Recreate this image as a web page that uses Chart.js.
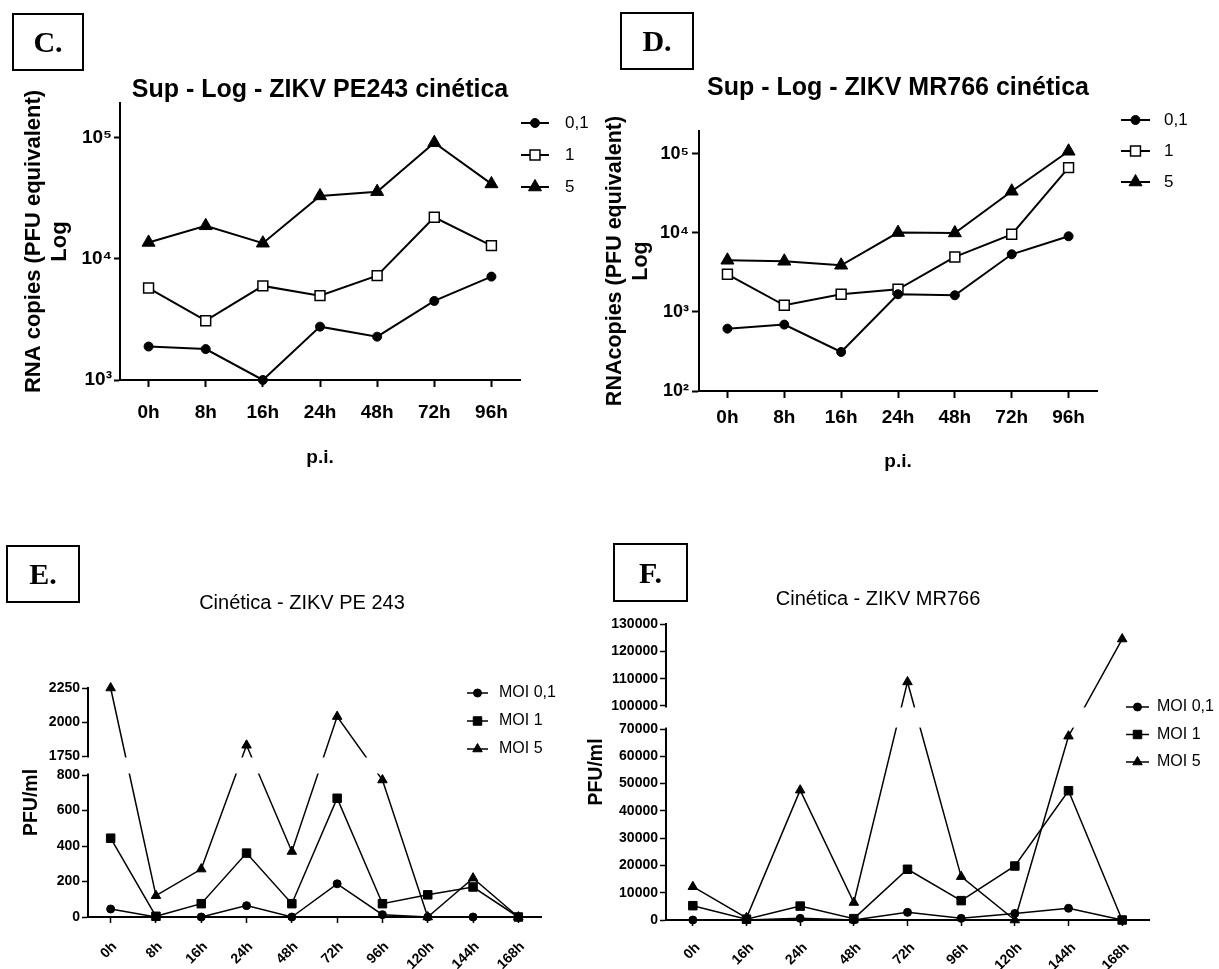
<!DOCTYPE html>
<html lang="pt">
<head>
<meta charset="utf-8">
<title>Cinética ZIKV PE243 / MR766</title>
<script src="https://cdn.jsdelivr.net/npm/chart.js@4.4.1/dist/chart.umd.min.js"></script>
<style>
  body { margin: 0; background: #fff; }
  #page { position: relative; width: 1219px; height: 969px; overflow: hidden; background: #fff; }
  canvas { position: absolute; }
  .tag {
    position: absolute; box-sizing: border-box; border: 2px solid #000;
    display: flex; align-items: center; justify-content: center;
    font: bold 30px "Liberation Serif", "Times New Roman", serif; color: #000;
  }
</style>
</head>
<body>
<div id="page">
  <canvas id="chartC" width="600" height="480" style="left:0;top:0"></canvas>
  <canvas id="chartD" width="619" height="480" style="left:600px;top:0"></canvas>
  <canvas id="chartE" width="610" height="409" style="left:0;top:560px"></canvas>
  <canvas id="chartF" width="639" height="409" style="left:580px;top:560px"></canvas>
  <div class="tag" style="left:12px;top:13px;width:72px;height:58px">C.</div>
  <div class="tag" style="left:620px;top:12px;width:74px;height:58px">D.</div>
  <div class="tag" style="left:6px;top:545px;width:74px;height:58px">E.</div>
  <div class="tag" style="left:613px;top:543px;width:75px;height:59px">F.</div>
</div>
<script>
// data
const hoursRna = ["0h", "8h", "16h", "24h", "48h", "72h", "96h"];
const moiRna = ["0,1", "1", "5"];

const rnaPE243_01 = [1890, 1800, 1000, 2760, 2280, 4500, 7150];
const rnaPE243_1 = [5750, 3090, 5990, 4980, 7280, 22100, 12900];
const rnaPE243_5 = [13700, 18800, 13500, 33200, 36000, 91400, 41700];

const rnaMR766_01 = [615, 692, 312, 1675, 1627, 5370, 9070];
const rnaMR766_1 = [3000, 1215, 1675, 1937, 4970, 9610, 67100];
const rnaMR766_5 = [4510, 4380, 3900, 10100, 10000, 33700, 108000];

const hoursPE243 = ["0h", "8h", "16h", "24h", "48h", "72h", "96h", "120h", "144h", "168h"];
const hoursMR766 = ["0h", "16h", "24h", "48h", "72h", "96h", "120h", "144h", "168h"];
const moiPfu = ["MOI 0,1", "MOI 1", "MOI 5"];

const pfuPE243_01 = [45, 0, 0, 64, 0, 187, 13, 0, 0, 0];
const pfuPE243_1 = [444, 4, 75, 360, 75, 669, 75, 125, 169, 0];
const pfuPE243_5 = [2250, 120, 270, 1829, 369, 2040, 772, 0, 219, 0];

const pfuMR766_01 = [0, 0, 600, 0, 2800, 600, 2400, 4300, 0];
const pfuMR766_1 = [5250, 300, 5100, 500, 18600, 7100, 19800, 47400, 0];
const pfuMR766_5 = [12200, 800, 47600, 6400, 108800, 15900, 0, 67400, 124500];

const logTicksPE243 = [1000, 10000, 100000];
const logTicksMR766 = [100, 1000, 10000, 100000];
const pfuTicksPE243 = [0, 200, 400, 600, 800, 1750, 2000, 2250];
const pfuTicksMR766 = [0, 10000, 20000, 30000, 40000, 50000, 60000, 70000, 100000, 110000, 120000, 130000];

// look
const SANS = '"Liberation Sans", Arial, Helvetica, sans-serif';
const black = "#000";
const SUP = { 2: "\u00B2", 3: "\u00B3", 4: "\u2074", 5: "\u2075" };
const powerLabel = (v) => "10" + SUP[Math.round(Math.log10(v))];

Chart.defaults.font.family = SANS;
Chart.defaults.color = black;

const markRna = [
  { pointStyle: "circle", pointRadius: 4.5, pointBackgroundColor: black, pointBorderWidth: 1 },
  { pointStyle: "rect", pointRadius: 7, pointBackgroundColor: "#fff", pointBorderWidth: 1.5 },
  { pointStyle: "triangle", pointRadius: 7.5, pointBackgroundColor: black, pointBorderWidth: 1 },
];
const markPfu = [
  { pointStyle: "circle", pointRadius: 4, pointBackgroundColor: black, pointBorderWidth: 1 },
  { pointStyle: "rect", pointRadius: 6, pointBackgroundColor: black, pointBorderWidth: 1 },
  { pointStyle: "triangle", pointRadius: 5.5, pointBackgroundColor: black, pointBorderWidth: 1 },
];

function makeDatasets(labels, values, marks, width) {
  return values.map((data, i) => Object.assign({
    label: labels[i],
    data: data,
    borderColor: black,
    borderWidth: width,
    pointBorderColor: black,
    pointHoverRadius: 0,
    tension: 0,
    fill: false,
    clip: false,
  }, marks[i]));
}

// linear axis with a hidden band between breakLow and breakHigh (GraphPad style)
class BrokenLinearScale extends Chart.LinearScale {
  static id = "brokenLinear";
  getPixelForValue(value) {
    if (value === null || value === undefined || isNaN(value)) return NaN;
    const o = this.options;
    const low = o.lowerShare, gap = o.gapShare;
    let d;
    if (value <= o.breakLow) {
      d = (value - this.min) / (o.breakLow - this.min) * low;
    } else if (value >= o.breakHigh) {
      d = low + gap + (value - o.breakHigh) / (this.max - o.breakHigh) * (1 - low - gap);
    } else {
      d = low + (value - o.breakLow) / (o.breakHigh - o.breakLow) * gap;
    }
    return this.getPixelForDecimal(d);
  }
  getValueForPixel(pixel) {
    const o = this.options;
    const low = o.lowerShare, gap = o.gapShare;
    const d = this.getDecimalForPixel(pixel);
    if (d <= low) return this.min + d / low * (o.breakLow - this.min);
    if (d >= low + gap) return o.breakHigh + (d - low - gap) / (1 - low - gap) * (this.max - o.breakHigh);
    return o.breakLow + (d - low) / gap * (o.breakHigh - o.breakLow);
  }
}
Chart.register(BrokenLinearScale);

const axisBreakGap = {
  id: "axisBreakGap",
  afterDatasetsDraw(chart) {
    const y = chart.scales.y;
    if (!y || y.type !== "brokenLinear") return;
    const top = y.getPixelForValue(y.options.breakHigh) + 1.5;
    const bottom = y.getPixelForValue(y.options.breakLow) - 1.5;
    const ctx = chart.ctx;
    ctx.save();
    ctx.fillStyle = "#fff";
    ctx.fillRect(y.right - 3, top, chart.chartArea.right - y.right + 8, bottom - top);
    ctx.restore();
  },
};

function drawMark(ctx, style, x, y, r, fill) {
  ctx.beginPath();
  if (style === "circle") {
    ctx.arc(x, y, r, 0, Math.PI * 2);
  } else if (style === "rect") {
    const s = r * Math.SQRT1_2;
    ctx.rect(x - s, y - s, 2 * s, 2 * s);
  } else {
    ctx.moveTo(x, y - r);
    ctx.lineTo(x + r * 0.866, y + r / 2);
    ctx.lineTo(x - r * 0.866, y + r / 2);
    ctx.closePath();
  }
  ctx.fillStyle = fill;
  ctx.fill();
  ctx.stroke();
}

// legend: short line with the series marker in the middle, then the label
const seriesLegend = {
  id: "seriesLegend",
  afterDraw(chart, args, opts) {
    const ctx = chart.ctx;
    ctx.save();
    ctx.strokeStyle = black;
    ctx.font = opts.textFont;
    ctx.textBaseline = "middle";
    chart.data.datasets.forEach((ds, i) => {
      const y = opts.y + i * opts.step;
      ctx.lineWidth = opts.lineWidth;
      ctx.beginPath();
      ctx.moveTo(opts.x, y);
      ctx.lineTo(opts.x + opts.length, y);
      ctx.stroke();
      ctx.lineWidth = ds.pointBorderWidth;
      drawMark(ctx, ds.pointStyle, opts.x + opts.length / 2, y, ds.pointRadius, ds.pointBackgroundColor);
      ctx.fillStyle = black;
      ctx.fillText(ds.label, opts.textX, y);
    });
    ctx.restore();
  },
};

const tickFontRna = { size: 19, weight: "bold" };
const tickFontPfu = { size: 14, weight: "bold" };

// C. Sup - Log - ZIKV PE243
new Chart(document.getElementById("chartC"), {
  type: "line",
  data: {
    labels: hoursRna,
    datasets: makeDatasets(moiRna, [rnaPE243_01, rnaPE243_1, rnaPE243_5], markRna, 2),
  },
  options: {
    responsive: false,
    animation: false,
    events: [],
    layout: { padding: { left: 0, right: 80, top: 0, bottom: 0 } },
    scales: {
      x: {
        type: "category",
        offset: true,
        grid: { offset: false, drawOnChartArea: false, tickLength: 7, tickWidth: 2, tickColor: black },
        border: { color: black, width: 2 },
        ticks: { color: black, font: tickFontRna, padding: 14.6, maxRotation: 0, autoSkip: false },
        title: {
          display: true, text: "p.i.", color: black,
          font: { size: 19, weight: "bold", lineHeight: 1.2 },
          padding: { top: 0, bottom: 10.6 },
        },
        afterFit: (s) => { s.height = 100; },
      },
      y: {
        type: "logarithmic",
        min: 1000,
        max: 194500,
        afterBuildTicks: (s) => { s.ticks = logTicksPE243.map((v) => ({ value: v })); },
        grid: { drawOnChartArea: false, tickLength: 6, tickWidth: 2, tickColor: black },
        border: { color: black, width: 2 },
        ticks: { color: black, font: tickFontRna, padding: 2, callback: powerLabel },
        title: {
          display: true, text: ["RNA copies (PFU equivalent)", "Log"], color: black,
          font: { size: 22, weight: "bold", lineHeight: 1.2 },
          padding: { top: 20.8, bottom: 0 },
        },
        afterFit: (s) => { s.width = 120; },
      },
    },
    plugins: {
      legend: { display: false },
      tooltip: { enabled: false },
      title: {
        display: true, fullSize: false,
        text: "Sup - Log - ZIKV PE243 cinética", color: black,
        font: { size: 25, weight: "bold", lineHeight: 1 },
        padding: { top: 77.5, bottom: 0.5 },
      },
      seriesLegend: { x: 521, length: 28, textX: 565, y: 123, step: 32, lineWidth: 2, textFont: "17px " + SANS },
    },
  },
  plugins: [seriesLegend],
});

// D. Sup - Log - ZIKV MR766
new Chart(document.getElementById("chartD"), {
  type: "line",
  data: {
    labels: hoursRna,
    datasets: makeDatasets(moiRna, [rnaMR766_01, rnaMR766_1, rnaMR766_5], markRna, 2),
  },
  options: {
    responsive: false,
    animation: false,
    events: [],
    layout: { padding: { left: 0, right: 122, top: 0, bottom: 0 } },
    scales: {
      x: {
        type: "category",
        offset: true,
        grid: { offset: false, drawOnChartArea: false, tickLength: 7, tickWidth: 2, tickColor: black },
        border: { color: black, width: 2 },
        ticks: { color: black, font: tickFontRna, padding: 8.6, maxRotation: 0, autoSkip: false },
        title: {
          display: true, text: "p.i.", color: black,
          font: { size: 19, weight: "bold", lineHeight: 1.2 },
          padding: { top: 0, bottom: 6.6 },
        },
        afterFit: (s) => { s.height = 89; },
      },
      y: {
        type: "logarithmic",
        min: 100,
        max: 195000,
        afterBuildTicks: (s) => { s.ticks = logTicksMR766.map((v) => ({ value: v })); },
        grid: { drawOnChartArea: false, tickLength: 7, tickWidth: 2, tickColor: black },
        border: { color: black, width: 2 },
        ticks: { color: black, font: { size: 18, weight: "bold" }, padding: 3, callback: powerLabel },
        title: {
          display: true, text: ["RNAcopies (PFU equivalent)", "Log"], color: black,
          font: { size: 21.5, weight: "bold", lineHeight: 1.2 },
          padding: { top: 2, bottom: 0 },
        },
        afterFit: (s) => { s.width = 99; },
      },
    },
    plugins: {
      legend: { display: false },
      tooltip: { enabled: false },
      title: {
        display: true, fullSize: false,
        text: "Sup - Log - ZIKV MR766 cinética", color: black,
        font: { size: 25, weight: "bold", lineHeight: 1 },
        padding: { top: 75.5, bottom: 30.5 },
      },
      seriesLegend: { x: 521, length: 29, textX: 564, y: 120, step: 31, lineWidth: 2, textFont: "17px " + SANS },
    },
  },
  plugins: [seriesLegend],
});

// E. Cinética - ZIKV PE 243 (PFU/ml, broken axis)
new Chart(document.getElementById("chartE"), {
  type: "line",
  data: {
    labels: hoursPE243,
    datasets: makeDatasets(moiPfu, [pfuPE243_01, pfuPE243_1, pfuPE243_5], markPfu, 1.5),
  },
  options: {
    responsive: false,
    animation: false,
    events: [],
    layout: { padding: { left: 0, right: 6, top: 0, bottom: 0 } },
    scales: {
      x: {
        type: "category",
        offset: true,
        grid: { offset: false, drawOnChartArea: false, tickLength: 6, tickWidth: 1.5, tickColor: black },
        border: { color: black, width: 2 },
        ticks: { color: black, font: tickFontPfu, padding: 15.6, labelOffset: 4, minRotation: 45, maxRotation: 45, autoSkip: false },
        afterFit: (s) => { s.height = 52; },
      },
      y: {
        type: "brokenLinear",
        min: 0,
        max: 2250,
        breakLow: 800,
        breakHigh: 1750,
        lowerShare: 0.62,
        gapShare: 0.083,
        afterBuildTicks: (s) => { s.ticks = pfuTicksPE243.map((v) => ({ value: v })); },
        grid: { drawOnChartArea: false, tickLength: 6, tickWidth: 1.5, tickColor: black },
        border: { color: black, width: 2 },
        ticks: { color: black, font: tickFontPfu, padding: 2, autoSkip: false, callback: (v) => String(v) },
        title: {
          display: true, text: "PFU/ml", color: black,
          font: { size: 19.5, weight: "bold", lineHeight: 1.2 },
          padding: { top: 19.5, bottom: 0 },
        },
        afterFit: (s) => { s.width = 88; },
      },
      yPad: {
        position: "right",
        grid: { display: false },
        border: { display: false },
        ticks: { display: false },
        afterFit: (s) => { s.width = 63; },
      },
    },
    plugins: {
      legend: { display: false },
      tooltip: { enabled: false },
      title: {
        display: true,
        text: "Cinética - ZIKV PE 243", color: black,
        font: { size: 20, weight: "normal", lineHeight: 1.2 },
        padding: { top: 31, bottom: 73 },
      },
      seriesLegend: { x: 467, length: 21, textX: 499, y: 133, step: 28, lineWidth: 1.5, textFont: "16px " + SANS },
    },
  },
  plugins: [axisBreakGap, seriesLegend],
});

// F. Cinética - ZIKV MR766 (PFU/ml, broken axis)
new Chart(document.getElementById("chartF"), {
  type: "line",
  data: {
    labels: hoursMR766,
    datasets: makeDatasets(moiPfu, [pfuMR766_01, pfuMR766_1, pfuMR766_5], markPfu, 1.5),
  },
  options: {
    responsive: false,
    animation: false,
    events: [],
    layout: { padding: { left: 0, right: 43, top: 0, bottom: 0 } },
    scales: {
      x: {
        type: "category",
        offset: true,
        grid: { offset: false, drawOnChartArea: false, tickLength: 6, tickWidth: 1.5, tickColor: black },
        border: { color: black, width: 2 },
        ticks: { color: black, font: tickFontPfu, padding: 13.6, labelOffset: 5, minRotation: 45, maxRotation: 45, autoSkip: false },
        afterFit: (s) => { s.height = 49; },
      },
      y: {
        type: "brokenLinear",
        min: 0,
        max: 130000,
        breakLow: 70000,
        breakHigh: 100000,
        lowerShare: 0.645,
        gapShare: 0.078,
        afterBuildTicks: (s) => { s.ticks = pfuTicksMR766.map((v) => ({ value: v })); },
        grid: { drawOnChartArea: false, tickLength: 6, tickWidth: 1.5, tickColor: black },
        border: { color: black, width: 2 },
        ticks: { color: black, font: tickFontPfu, padding: 2, autoSkip: false, callback: (v) => String(v) },
        title: {
          display: true, text: "PFU/ml", color: black,
          font: { size: 19.5, weight: "bold", lineHeight: 1.2 },
          padding: { top: 5.3, bottom: 0 },
        },
        afterFit: (s) => { s.width = 86; },
      },
      yPad: {
        position: "right",
        grid: { display: false },
        border: { display: false },
        ticks: { display: false },
        afterFit: (s) => { s.width = 27; },
      },
    },
    plugins: {
      legend: { display: false },
      tooltip: { enabled: false },
      title: {
        display: true,
        text: "Cinética - ZIKV MR766", color: black,
        font: { size: 20, weight: "normal", lineHeight: 1.2 },
        padding: { top: 27, bottom: 13 },
      },
      seriesLegend: { x: 546, length: 23, textX: 577, y: 147, step: 27.5, lineWidth: 1.5, textFont: "16px " + SANS },
    },
  },
  plugins: [axisBreakGap, seriesLegend],
});
</script>
</body>
</html>
